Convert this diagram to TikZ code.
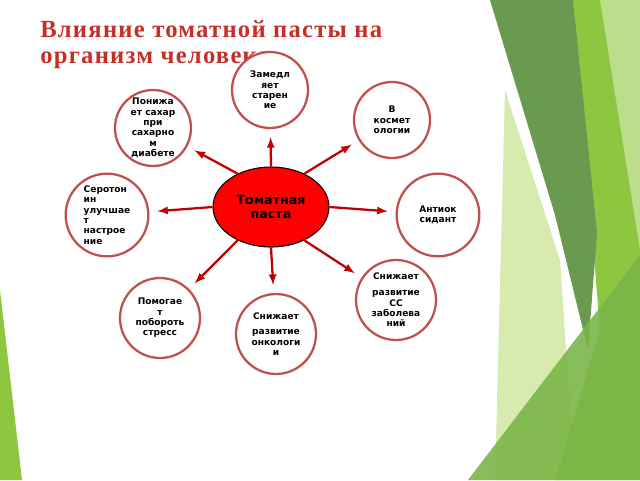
\documentclass[tikz,border=0pt]{standalone}
\usepackage{fontspec}
\usetikzlibrary{shapes.geometric}
\setmainfont{DejaVu Sans}
\newfontfamily\titlefont[LetterSpace=5]{Liberation Serif}
\definecolor{ring}{RGB}{192,80,77}
\definecolor{dkg}{RGB}{106,154,80}
\definecolor{limeg}{RGB}{141,198,63}
\definecolor{paleg}{RGB}{215,235,175}
\definecolor{midg}{RGB}{122,182,72}
\definecolor{ttl}{RGB}{196,48,40}
\begin{document}
\begin{tikzpicture}[x=0.75pt,y=-0.75pt,
  bub/.style={circle,draw=ring,line width=1.7pt,fill=white,minimum size=#1,inner sep=0pt,align=center,font=\fontsize{6.8}{7.8}\selectfont\bfseries},
  arr/.style={-latex,line width=1.7pt,draw=red!75!black,shorten >=6pt}]
\useasboundingbox (0,0) rectangle (640,480);
% background greens
\fill[paleg] (505,90) -- (560,260) -- (575,480) -- (495,480) -- cycle;
\fill[limeg] (573,0) -- (640,0) -- (640,480) -- (555,480) -- (600,330) -- cycle;
\fill[limeg!60!white] (600,0) -- (640,0) -- (640,250) -- cycle;
\fill[dkg] (490,0) -- (573,0) -- (597,233) -- (588,350) -- (555,215) -- cycle;
\fill[midg,opacity=0.9] (640,255) -- (640,480) -- (468,480) -- cycle;
\fill[limeg] (0,290) -- (22,480) -- (0,480) -- cycle;
\node[anchor=north west,align=left,text=ttl,inner sep=0pt,font=\titlefont\fontsize{18.5}{19.5}\selectfont\bfseries] (title) at (40,20) {Влияние томатной пасты на\\организм человека};
\node[bub=57pt] (n1) at (270,90) {Замедл\\яет\\старен\\ие};
\node[bub=57pt] (n2) at (392,120) {В\\космет\\ологии};
\node[bub=57pt] (n3) at (153,128) {Понижа\\ет сахар\\при\\сахарно\\м\\диабете};
\node[bub=62pt,align=left] (n4) at (107,215) {Серотон\\ин\\улучшае\\т\\настрое\\ние};
\node[bub=62pt] (n5) at (438,215) {Антиок\\сидант};
\node[bub=60pt] (n6) at (160,318) {Помогае\\т\\побороть\\стресс};
\node[bub=60pt] (n7) at (276,334) {Снижает\\[4pt]развитие\\онкологи\\и};
\node[bub=60pt] (n8) at (396,300) {Снижает\\[4pt]развитие\\СС\\заболева\\ний};
\node[ellipse,draw=black,line width=0.8pt,fill=red,minimum width=87pt,minimum height=60pt,inner sep=0pt,align=center,font=\fontsize{9.5}{11}\selectfont\bfseries] (c) at (271,207) {Томатная\\паста};
\draw[arr] (c.north) -- (n1);
\draw[arr] (c.45) -- (n2);
\draw[arr] (c.135) -- (n3);
\draw[arr] (c.west) -- (n4);
\draw[arr] (c.east) -- (n5);
\draw[arr] (c.225) -- (n6);
\draw[arr] (c.south) -- (n7);
\draw[arr] (c.-45) -- (n8);
\end{tikzpicture}
\end{document}
